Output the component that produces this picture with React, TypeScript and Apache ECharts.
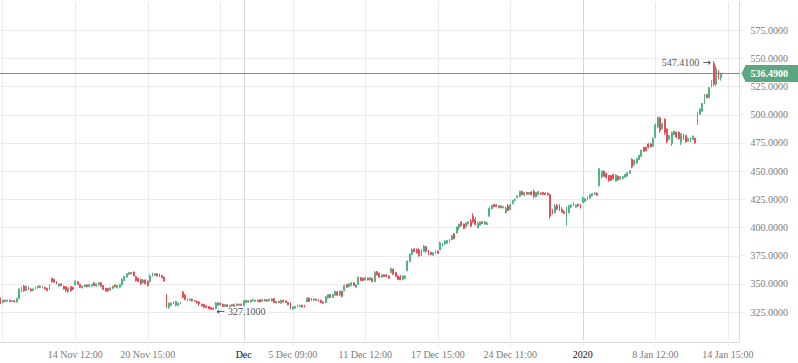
import React, { useEffect, useRef } from "react";
import * as echarts from "echarts";

// Trading sessions (hourly bars). Full day: 09..15, half day: 09..13
const FULL = [9, 10, 11, 12, 13, 14, 15];
const HALF = [9, 10, 11, 12, 13];
const sessions: [string, number[]][] = [
  ["7 Nov", [15]],
  ["8 Nov", FULL], ["11 Nov", FULL], ["12 Nov", FULL], ["13 Nov", FULL], ["14 Nov", FULL],
  ["15 Nov", FULL], ["18 Nov", FULL], ["19 Nov", FULL], ["20 Nov", FULL], ["21 Nov", FULL],
  ["22 Nov", FULL], ["25 Nov", FULL], ["26 Nov", FULL], ["27 Nov", FULL], ["29 Nov", HALF],
  ["2 Dec", FULL], ["3 Dec", FULL], ["4 Dec", FULL], ["5 Dec", FULL], ["6 Dec", FULL],
  ["9 Dec", FULL], ["10 Dec", FULL], ["11 Dec", FULL], ["12 Dec", FULL], ["13 Dec", FULL],
  ["16 Dec", FULL], ["17 Dec", FULL], ["18 Dec", FULL], ["19 Dec", FULL], ["20 Dec", FULL],
  ["23 Dec", FULL], ["24 Dec", HALF], ["26 Dec", FULL], ["27 Dec", FULL], ["30 Dec", FULL],
  ["31 Dec", FULL], ["2 Jan", FULL], ["3 Jan", FULL], ["6 Jan", FULL], ["7 Jan", FULL],
  ["8 Jan", FULL], ["9 Jan", FULL], ["10 Jan", FULL], ["13 Jan", FULL], ["14 Jan", FULL],
  ["15 Jan", HALF],
];
const categories: string[] = sessions.flatMap(([d, hs]) =>
  hs.map((h) => `${d} ${String(h).padStart(2, "0")}:00`)
);

const opens = [
  337,333.5,335.5,334.5,335.5,334.5,335,334,337,343,
  348,344,347,345.5,344,345.5,346.5,348,346.5,347,
  346,345,355,354,352,348,350,348,347.5,343,
  347.5,347,349,352,349.5,346.5,347.5,349,347.5,348,
  351,348,349,351,348.5,346,346,344.5,346,349,
  346.5,347,349,353,356,358.5,360,360.5,356.5,355,
  354,351,353.5,352.5,352,357,357.5,359,358.5,357.5,
  356,340.5,329,331,334,331,331,332.5,343,340,
  335,335.5,336.5,335,334.5,334,332,332,330.5,330,
  329,328.5,328,331,333,332,330,331.5,330,331.5,
  330,332,331,332,331,333.5,335,334,335,334.5,
  335.5,336,334.5,336,334.5,335,336.5,337,333,334.5,
  333,335.5,335,333.5,333,327.8,328.5,329.5,330,331,
  331,334,337.5,337,335.5,336.5,336,335.5,334,333.5,
  337.5,340.5,338,340,343,340,343.5,344,349.5,347.5,
  348.5,351,347,349.5,355.5,355,353.5,355,353.5,355,
  352,361,359.5,356,358,358,357,360,363,360,
  357,356,354,355,362,369.5,376,381,380.5,380,
  375,379,383,379,378,375.5,377,379,380,384.5,
  385.5,386,387,389,394.5,395,399.5,405,403,400.5,
  403,405.5,410,407,399.5,402,405,403,402.5,410,
  416.5,420.5,420,417.5,419,417.5,413,419,416,421,
  424,426.5,427.5,432,428.5,431,429.5,431.5,432,427,
  429,430.5,431,430.5,430.5,429,416,413,419.5,419.5,
  416,414,408,413,418,421,418,420.5,420,422,
  423,424.5,426,428,429.5,430.5,437,445,450,448,
  446,446,447,441,445.5,443,443.5,444.5,445.5,448,
  460.5,455.5,457,460,463,471,471,474,474,472,
  480,489,497,487.5,496,487,478,474.5,482,484.5,
  484.5,475,482.5,481.5,476.5,476,478,479,491,500,
  503,510,518,515,524.5,545.5,527,539,533,
];
const closes = [
  333,335.5,334.5,335.5,334.5,335,334,337,345.5,347,
  344,348,345,344,345.5,347,348,347,347.5,345.5,
  344,349,352,351.5,350,350,348.5,345.5,344,346.5,
  344,345,352.5,349.5,347,348,349,347.5,349.5,349.5,
  348.5,350,351,348,345,343.5,344,346.5,348,347.5,
  348.5,349.5,354,356.5,359,360,359,357,353,352,
  350,353.5,350,348.5,357,359.5,359,357,356.5,355.5,
  352.5,330,333,333,332.5,334.5,333,333.5,338,336,
  336.5,336.5,335,334.5,333,332.5,330.5,329.5,329,328,
  327.5,327.5,333,333.5,331.5,330,331.5,330,331,330.5,
  332,331,332,331,335,335.5,334,335.5,336,335.5,
  334.5,334,336,335,336,336.5,335,333.5,334.5,333.5,
  335.5,334,333.5,331.5,328.5,329.5,330,331,331,329.5,
  329.5,337.5,334.5,335.5,336.5,335.5,334.5,333.5,333,338.5,
  340.5,338,340.5,343.5,340,343.5,339,348.5,347,350,
  351,348.5,349,356,353,353,355.5,353.5,355.5,352,
  360,358,356,358,356.5,356.5,355,363.8,358.5,356.5,
  354,353.5,357,357,370,376,380.5,378.5,377.5,375,
  380.5,383.5,379,376.5,376,377.5,379,377,386.5,386,
  388,388.5,389.5,393,390,400.5,403,401.5,399,404,
  405,401,405,402.5,403.5,405,403.5,405,404,417,
  419.5,418.5,418.5,419.5,417.5,418.5,417.5,415,420,424,
  425,428,432,429,431,429.5,431,429,428,431,
  432,429.5,429.5,429,429,410,413,419,416,414.5,
  413.5,412.5,417,419,420,419.5,420,419,417,426,
  425.5,427,429,430,430.5,428.5,452,450,445.5,444,
  441.5,442,443,446.5,442,445,445,447,448.5,450.5,
  453.5,459.5,461,464,468.5,467.5,468,471,471.5,479,
  491,497.5,486,492,484,476,481.5,484,485.5,480,
  478.5,483,478,476,479,479.5,481,475,502,505,
  510,518,515,524,530.5,527,541,533,536.49,
];
const lows = [
  332,333,334,334,334,334,333.5,333.5,336.5,342.5,
  343,343.5,344.5,343,343.5,345,346,346.5,346,345,
  343.5,344.5,351,351,349.5,347.5,348,345,343,342,
  343,344.5,348.5,349,346.5,346,347,347,347,347.5,
  348,347.5,348.5,347.5,344.5,343,343,344,345.5,347,
  346,346,348.5,352.5,355.5,358,358.5,356.5,352,351.5,
  349,350.5,349.5,347.6,351.5,356.5,357,356.5,356,355,
  352,328.4,328,330.5,332,330,330,332,337.2,335.5,
  334.5,335,334.5,334,332.5,330.5,330,328.4,328.5,327.5,
  327.2,327.1,327.5,330.5,331,329.5,329.5,329.5,329.5,330,
  329.5,330.5,330.5,330.5,330.5,333,333.5,333.5,334.5,334,
  334,333.5,334,334.5,334,334.5,334.5,332.8,332.5,333,
  332.5,333.5,333,331,327.6,327.3,328,329,329.5,329,
  329,334,334,335,335,335,334,333,332.5,333,
  337,337.5,337.5,339.5,339.5,339,338,343.5,346.5,347,
  348,348,346.5,349,352.5,352.5,353,353,353,351.5,
  351.5,357.5,355.5,355.5,356,356,354.5,359.4,358,356,
  353.5,353.4,353.5,354.5,361,369.5,375.6,378,377,374.1,
  374.5,378.5,377.6,375.6,375.5,375,376.5,376.5,380,383,
  384.5,385.5,386,388.9,389.6,394.9,397.9,400.8,398.5,400,
  402.5,400.8,403.8,402.4,399.4,401.5,403,402.5,402.4,409.5,
  416,417.9,418,416.9,417,417,412.5,414.8,415.8,420.5,
  423.5,425.8,426.7,428.8,428,429,429,428.5,425.8,426.5,
  428.5,429,429,428.8,428.5,408,411.7,412.5,415.5,414.4,
  413.2,412,401.5,412.5,417.5,419.4,417.5,418.5,416.9,421.6,
  422.5,424,425.5,427.5,429,428,436,443.5,445,443.5,
  440.5,441.5,442.5,440.5,441.5,442.5,443,444,445,447.4,
  452.4,455,456.5,459.8,462.7,467.1,467.5,470.2,471,471,
  479,488,484,487,482.1,474.6,477.5,472.2,481.9,479,
  478,473.1,477.5,475,476,475.5,477.5,474,490.8,499.7,
  502.6,509.5,514.5,514.5,524.2,525.4,525.5,531.3,530.1,
];
const highs = [
  338,336,336,336,336,335.5,335.5,337.5,346,347.5,
  349,348.5,347.5,346,346,347.5,348.5,348.5,348,347.5,
  346.5,349.5,355.5,354.5,352.5,350.5,350.5,348.5,348,347,
  348,347.5,353,352.5,350,348.5,349.5,349.5,350,350,
  351.5,350.5,351.5,351.5,349,346.5,346.5,347,348.5,349.5,
  349,350,355,357,359.5,360.5,360.5,361,357,355.5,
  354.5,354,354,353,358.6,360,359.5,359.5,359,358,
  356.5,341,333.5,333.5,334.5,335,333.5,334,343.7,341,
  337,337,337,335.5,335,334.5,332.5,332.3,331,330.5,
  329.5,329,334,334,333.5,332.5,332,332,331.5,332,
  332.5,332.5,332.5,332.5,335.5,336,335.5,336,336.5,336,
  336,336.5,336.5,336.5,336.5,337,337,337.2,335,335,
  336,336,335.5,334,333.5,330,330.5,331.5,331.5,331.5,
  331.5,337.8,338,337.5,337,337,336.5,336,334.5,339,
  340.8,341,341,344,343.5,344,344,349.4,350,350.5,
  351.6,351.5,349.5,356.4,356,355.5,356,355.5,356,355.5,
  361.4,361.5,360,358.5,358.5,358.5,357.5,364.4,363.8,360.8,
  357.5,357.9,357.5,357.5,371,377,381.5,381.5,381.5,381.5,
  381,384.5,383.5,380,378.5,378,379.5,379.5,387.5,386.5,
  388.5,389,390,393.4,395,400.8,403.2,405.3,403.5,404.5,
  405.5,407.4,412.7,409.1,405.3,405.5,405.5,405.5,405.3,418.4,
  419.9,420.8,420.5,419.9,419.5,419,418.4,420.8,421.4,424.3,
  425.5,428.4,432.6,432.6,431.5,431.5,431.5,432,433.7,431.5,
  432.5,431,431.5,431,431,430,416.5,420.8,420.8,420.8,
  417.9,415.5,418.4,420,420.8,422.3,420.5,421,420.8,427.5,
  426,427.5,429.5,430.5,431,431,452.5,450.3,450.5,448.5,
  446.5,446.5,447.5,447,446,445.5,445.5,447.5,449,450.9,
  461.3,460,461.3,464.2,468.7,471.6,471.5,474.6,474.5,479.9,
  492.3,498.2,498.2,492.9,496.7,487.9,481.9,484.9,485.7,484.9,
  485,483.5,483,482,479.5,480,481.5,479.5,502.6,505.6,
  510.3,518.3,518.3,524.2,530.7,547.41,543.1,539.5,537,
];

// Axis ticks / labels
const xGridCats = [
  "8 Nov 09:00", "14 Nov 12:00", "20 Nov 15:00", "27 Nov 11:00", "5 Dec 09:00",
  "11 Dec 12:00", "17 Dec 15:00", "24 Dec 11:00", "8 Jan 12:00", "14 Jan 15:00",
];
const xStrongCats = ["2 Dec 09:00", "2 Jan 09:00"];
const xLabelCats = [
  "14 Nov 12:00", "20 Nov 15:00", "2 Dec 09:00", "5 Dec 09:00", "11 Dec 12:00",
  "17 Dec 15:00", "24 Dec 11:00", "2 Jan 09:00", "8 Jan 12:00", "14 Jan 15:00",
];
const xLabelText: Record<string, string> = { "2 Dec 09:00": "Dec", "2 Jan 09:00": "2020" };
const yGridValues = [325, 350, 375, 400, 425, 450, 475, 500, 525, 550, 575];

const SERIF = "'Liberation Serif', 'DejaVu Serif', serif";
const UP = "#4fb583";
const DOWN = "#e94b57";
const GRID = "#e9ebee";
const STRONG = "#d4d7db";
const AXIS = "#d6d9dd";
const PRICE = "#4ea679";

export default function App() {
  const ref = useRef<HTMLDivElement>(null);
  useEffect(() => {
    if (!ref.current) return;
    const chart = echarts.init(ref.current, undefined, { renderer: "svg" });
    const gridIdx = new Set(xGridCats.map((c) => categories.indexOf(c)));
    const strongIdx = new Set(xStrongCats.map((c) => categories.indexOf(c)));
    const labelIdx = new Set(xLabelCats.map((c) => categories.indexOf(c)));
    const data = opens.map((o, i) => [o, closes[i], lows[i], highs[i]]);
    const lastClose = closes[closes.length - 1];

    chart.setOption({
      animation: false,
      tooltip: { show: false },
      axisPointer: { show: false },
      grid: { left: 0.4, right: 58.4, top: 1.8, bottom: 22.7, containLabel: false, outerBoundsMode: "none" },
      xAxis: {
        type: "category",
        data: categories,
        boundaryGap: false,
        offset: 1.7,
        axisPointer: { show: false },
        axisLine: { show: true, lineStyle: { color: AXIS, width: 1 } },
        axisTick: {
          show: true,
          length: 4,
          interval: (i: number) => labelIdx.has(i),
          lineStyle: { color: GRID },
        },
        axisLabel: {
          interval: (i: number) => labelIdx.has(i),
          fontFamily: SERIF,
          fontSize: 10,
          color: "#7a7a7a",
          margin: 7,
          formatter: (v: string) => (xLabelText[v] ? `{b|${xLabelText[v]}}` : v),
          rich: { b: { color: "#111", fontFamily: SERIF, fontSize: 10 } },
        },
        splitLine: {
          show: true,
          interval: (i: number) => gridIdx.has(i) && !strongIdx.has(i),
          lineStyle: { color: GRID, width: 1 },
        },
      },
      yAxis: {
        type: "value",
        position: "right",
        min: 300,
        max: 600,
        interval: 25,
        scale: true,
        axisPointer: { show: false },
        axisLine: { show: true, lineStyle: { color: AXIS } },
        axisTick: { show: true, length: 5, lineStyle: { color: GRID } },
        splitLine: { show: false },
        axisLabel: {
          showMinLabel: false,
          showMaxLabel: false,
          fontFamily: SERIF,
          fontSize: 10,
          color: "#7a7a7a",
          margin: 11,
          formatter: (v: number) => v.toFixed(4),
        },
      },
      series: [
        {
          type: "candlestick",
          data,
          barWidth: 1.4,
          itemStyle: {
            color: UP,
            color0: DOWN,
            borderColor: UP,
            borderColor0: DOWN,
            borderWidth: 1,
          },
        },
      ],
    });

    const maxVal = Math.max(...highs);
    const maxI = highs.indexOf(maxVal);
    const minVal = Math.min(...lows);
    const minI = lows.indexOf(minVal);
    const pMax = chart.convertToPixel({ gridIndex: 0 }, [maxI, maxVal]) as number[];
    const pMin = chart.convertToPixel({ gridIndex: 0 }, [minI, minVal]) as number[];
    const pLast = chart.convertToPixel({ gridIndex: 0 }, [categories.length - 1, lastClose]) as number[];
    const p0 = chart.convertToPixel({ gridIndex: 0 }, [0, lastClose]) as number[];
    const ax = pLast[0];
    const py = pLast[1];
    const W = 798;
    const grid = (v: number) => chart.convertToPixel({ gridIndex: 0 }, [0, v]) as number[];
    const gx = (c: string) => chart.convertToPixel({ gridIndex: 0 }, [categories.indexOf(c), 400]) as number[];
    const top = grid(600)[1];
    const bottom = grid(300)[1];

    chart.setOption({
      graphic: [
        ...yGridValues.map((v) => {
          const y = Math.round(grid(v)[1]) + 0.5;
          return {
            type: "line", silent: true, z: -1,
            shape: { x1: p0[0], y1: y, x2: ax, y2: y },
            style: { stroke: GRID, lineWidth: 1 },
          };
        }),
        ...xStrongCats.map((c) => {
          const x = Math.round(gx(c)[0]) + 0.5;
          return {
            type: "line", silent: true, z: -1,
            shape: { x1: x, y1: top - 2, x2: x, y2: bottom },
            style: { stroke: STRONG, lineWidth: 1 },
          };
        }),
        {
          type: "rect",
          silent: true,
          z: 100,
          shape: { x: 0, y: Math.round(py), width: ax, height: 1 },
          style: { fill: PRICE, stroke: "none" },
        },
        {
          type: "polygon",
          silent: true,
          shape: {
            points: [
              [ax + 2, py],
              [ax + 6, py - 8.5],
              [W, py - 8.5],
              [W, py + 8.5],
              [ax + 6, py + 8.5],
            ],
          },
          style: { fill: "#5aa781" },
          z: 100,
        },
        {
          type: "text",
          silent: true,
          x: ax + 11,
          y: py,
          z: 101,
          style: {
            text: lastClose.toFixed(4),
            fill: "#ffffff",
            font: `bold 10px ${SERIF}`,
            align: "left",
            verticalAlign: "middle",
          },
        },
        {
          type: "text",
          silent: true,
          x: pMax[0] - 3,
          y: pMax[1] + 1.5,
          z: 101,
          style: {
            text: `{a|${maxVal.toFixed(4)}} {b|→}`,
            align: "right",
            verticalAlign: "middle",
            rich: {
              a: { fill: "#555", fontFamily: SERIF, fontSize: 10 },
              b: { fill: "#444", fontFamily: "'DejaVu Sans', sans-serif", fontSize: 10 },
            },
          },
        },
        {
          type: "text",
          silent: true,
          x: pMin[0] + 3,
          y: pMin[1] + 2,
          z: 101,
          style: {
            text: `{b|←} {a|${minVal.toFixed(4)}}`,
            align: "left",
            verticalAlign: "middle",
            rich: {
              a: { fill: "#555", fontFamily: SERIF, fontSize: 10 },
              b: { fill: "#444", fontFamily: "'DejaVu Sans', sans-serif", fontSize: 10 },
            },
          },
        },
      ],
    });

    return () => chart.dispose();
  }, []);

  return (
    <div
      ref={ref}
      style={{ position: "absolute", left: 0, top: 0, width: 798, height: 363 }}
    />
  );
}
